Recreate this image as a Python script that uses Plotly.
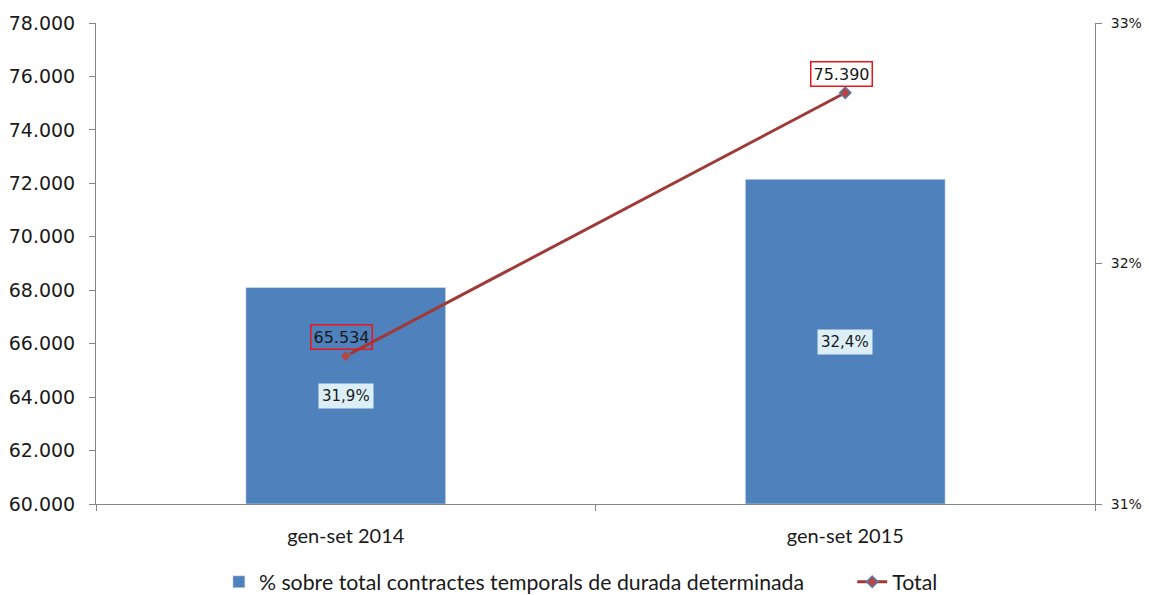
import plotly.graph_objects as go

categories = ["gen-set 2014", "gen-set 2015"]
pct_values = [31.90, 32.35]          # % sobre total contractes temporals (right axis)
pct_labels = ["31,9%", "32,4%"]
total_values = [65534, 75390]        # Total (left axis)
pct_ticks = [31, 32, 33]

bar_name = "% sobre total contractes temporals de durada determinada"
line_name = "Total"

AXIS_MIN_PCT = 31

BAR = "#4F81BD"
LINE = "#9E3A37"
AX = "#868686"
NUMFONT = "DejaVu Sans"
TXTFONT = "Lato"

fig = go.Figure()
fig.add_trace(go.Bar(
    x=categories, y=[v - AXIS_MIN_PCT for v in pct_values], base=AXIS_MIN_PCT,
    name=bar_name, marker_color=BAR, width=0.4, yaxis="y", legend="legend",
))
fig.add_trace(go.Scatter(
    x=categories, y=total_values, name=line_name, yaxis="y2", legend="legend2",
    mode="lines+markers",
    line=dict(color=LINE, width=3),
    marker=dict(symbol="diamond", size=9, color="#B04A45", line=dict(color="#4F81BD", width=1.2)),
))

annotations = []
for c, v, t in zip(categories, pct_values, pct_labels):
    annotations.append(dict(
        x=c, y=(AXIS_MIN_PCT + v) / 2, xref="x", yref="y", text=t, showarrow=False,
        bgcolor="#DCEFF7", borderpad=3,
        font=dict(family=NUMFONT, size=15, color="#1a1a1a"),
    ))
for c, v in zip(categories, total_values):
    annotations.append(dict(
        x=c, y=v, xref="x", yref="y2", text=f"{v:,}".replace(",", "."), showarrow=False,
        bordercolor="#E8161B", borderwidth=1.5, borderpad=2, bgcolor="rgba(0,0,0,0)",
        yshift=19, xshift=-4,
        font=dict(family=NUMFONT, size=16, color="#1a1a1a"),
    ))

legend_common = dict(orientation="h", y=-0.162, yanchor="middle", xanchor="left",
                     font=dict(family=TXTFONT, size=21.3, color="#1a1a1a"),
                     itemwidth=30, bgcolor="rgba(0,0,0,0)")

fig.update_layout(
    width=1149, height=595,
    margin=dict(l=96, r=54, t=23, b=91, autoexpand=False),
    paper_bgcolor="white", plot_bgcolor="white",
    separators=",.",
    showlegend=True,
    legend=dict(x=0.123, **legend_common),
    legend2=dict(x=0.757, **legend_common),
    xaxis=dict(
        type="category", tickson="boundaries", ticks="outside", ticklen=6,
        tickcolor=AX, showline=True, linecolor=AX, linewidth=1,
        showgrid=False, tickfont=dict(family=TXTFONT, size=20, color="#1a1a1a"),
        range=[-0.5, 1.5], automargin=False, ticklabelstandoff=14,
    ),
    yaxis=dict(
        side="right", range=[31, 33], tickmode="array", tickvals=pct_ticks,
        ticktext=[f"{t}%" for t in pct_ticks],
        ticks="outside", ticklen=6, tickcolor=AX, showline=True, linecolor=AX,
        showgrid=False, zeroline=False, automargin=False, ticklabelstandoff=6,
        tickfont=dict(family=NUMFONT, size=14, color="#1a1a1a"),
    ),
    yaxis2=dict(
        side="left", overlaying="y", range=[60000, 78000], dtick=2000,
        tickformat=",.0f", ticks="outside", ticklen=6, tickcolor=AX,
        showline=True, linecolor=AX, showgrid=False, zeroline=False, automargin=False,
        ticklabelstandoff=10,
        tickfont=dict(family=NUMFONT, size=19, color="#1a1a1a"),
    ),
    annotations=annotations,
)

fig.write_html("out.html", config={"displayModeBar": False},
               post_script="document.body.style.margin='0px';")
